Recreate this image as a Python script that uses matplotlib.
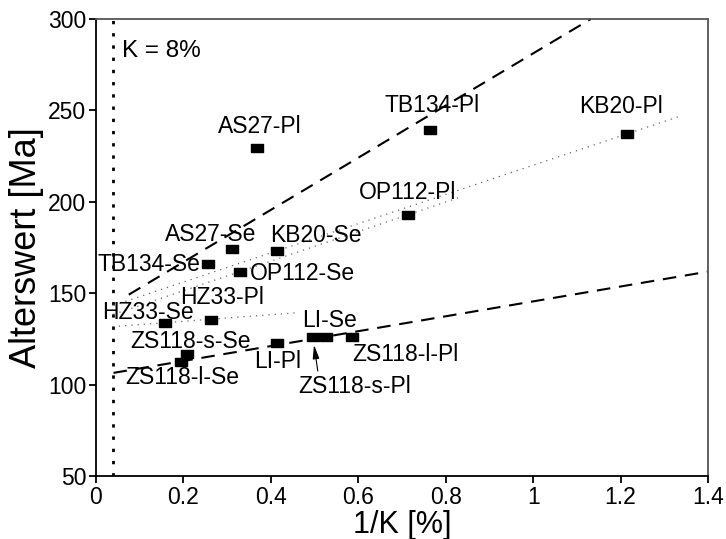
import matplotlib
matplotlib.use('Agg')
import matplotlib.pyplot as plt

plt.rcParams['font.family'] = ['Liberation Sans', 'DejaVu Sans']

# Probenwerte: 1/K [%] und Alterswert [Ma]
names = ['AS27-Pl', 'TB134-Pl', 'KB20-Pl', 'OP112-Pl',
         'AS27-Se', 'KB20-Se', 'TB134-Se', 'OP112-Se',
         'HZ33-Pl', 'HZ33-Se', 'ZS118-s-Se', 'ZS118-l-Se',
         'LI-Pl', 'LI-Se', 'ZS118-l-Pl', 'ZS118-s-Pl']
inv_k = [0.368, 0.765, 1.214, 0.713,
         0.311, 0.413, 0.257, 0.330,
         0.263, 0.158, 0.209, 0.194,
         0.413, 0.527, 0.586, 0.496]
age = [229.6, 239.3, 237.1, 192.8,
       174.0, 173.1, 165.8, 161.8,
       135.3, 133.5, 116.7, 112.5,
       122.6, 126.2, 126.2, 126.2]

# Label-Versatz in Punkten (dx, dy, ha)
label_pos = {
    'AS27-Pl': (2, 15.5, 'center'),
    'TB134-Pl': (1, 17.5, 'center'),
    'KB20-Pl': (-4, 19.5, 'center'),
    'OP112-Pl': (0, 16.5, 'center'),
    'AS27-Se': (-15, 10.5, 'center'),
    'KB20-Se': (28, 11, 'center'),
    'TB134-Se': (-6, 0, 'right'),
    'OP112-Se': (7, -1, 'left'),
    'HZ33-Pl': (8, 16, 'center'),
    'HZ33-Se': (-12, 8, 'center'),
    'ZS118-s-Se': (2, 9, 'center'),
    'ZS118-l-Se': (1, -11.5, 'center'),
    'LI-Pl': (1, -13, 'center'),
    'LI-Se': (2, 12, 'center'),
    'ZS118-l-Pl': (0, -13, 'left'),
}

# Geraden (x-Start, y-Start, x-Ende, y-Ende)
k_line_x = 0.039
dashed_lines = [(0.075, 149.2, 1.132, 300.0),
                (0.040, 106.4, 1.400, 161.8)]
dotted_lines = [(0.040, 143.3, 1.337, 246.9),
                (0.040, 138.4, 0.830, 202.3),
                (0.038, 131.7, 0.459, 139.3)]

fig = plt.figure(figsize=(7.26, 5.39), dpi=100)
ax = fig.add_axes([0.1322, 0.1169, 0.8430, 0.8479])

ax.axvline(k_line_x, color='black', lw=2.0, linestyle=(0, (1.2, 3.2)), zorder=2)
ax.text(k_line_x + 0.02, 282.5, 'K = 8%', fontsize=17.5, va='center', ha='left')

for x0, y0, x1, y1 in dashed_lines:
    ax.plot([x0, x1], [y0, y1], color='black', lw=1.5,
            linestyle=(0, (6.5, 4.2)), zorder=2)
for x0, y0, x1, y1 in dotted_lines:
    ax.plot([x0, x1], [y0, y1], color='#666666', lw=0.9,
            linestyle=(0, (1, 4)), zorder=2)

rect = [(-1, -0.72), (1, -0.72), (1, 0.72), (-1, 0.72), (-1, -0.72)]
ax.plot(inv_k, age, linestyle='none', marker=rect, markersize=8.6,
        color='black', zorder=4)

for n, x, y in zip(names, inv_k, age):
    if n in label_pos:
        dx, dy, ha = label_pos[n]
        ax.annotate(n, (x, y), xytext=(dx, dy), textcoords='offset points',
                    ha=ha, va='center', fontsize=16.5)

# Pfeil zu ZS118-s-Pl
i = names.index('ZS118-s-Pl')
ax.annotate('ZS118-s-Pl', (inv_k[i], age[i]), xytext=(30, -36),
            textcoords='offset points', ha='center', va='center', fontsize=16.5,
            arrowprops=dict(arrowstyle='-|>,head_length=0.5,head_width=0.12',
                            color='black', lw=0.8, relpos=(0.18, 1.0),
                            shrinkA=1, shrinkB=6))

ax.set_xlim(0, 1.4)
ax.set_ylim(50, 300)
ax.set_xticks([0, 0.2, 0.4, 0.6, 0.8, 1, 1.2, 1.4])
ax.set_xticklabels(['0', '0.2', '0.4', '0.6', '0.8', '1', '1.2', '1.4'])
ax.set_yticks([50, 100, 150, 200, 250, 300])
ax.tick_params(direction='out', length=5, width=1.3, labelsize=16.5, pad=2,
               top=False, right=False)
ax.set_xlabel('1/K [%]', fontsize=22, labelpad=1)
ax.set_ylabel('Alterswert [Ma]', fontsize=26, labelpad=3)

for s in ['left', 'bottom']:
    ax.spines[s].set_linewidth(1.3)
    ax.spines[s].set_color('black')
for s in ['top', 'right']:
    ax.spines[s].set_linewidth(1.3)
    ax.spines[s].set_color('#555555')

fig.savefig('out.png', dpi=100)
